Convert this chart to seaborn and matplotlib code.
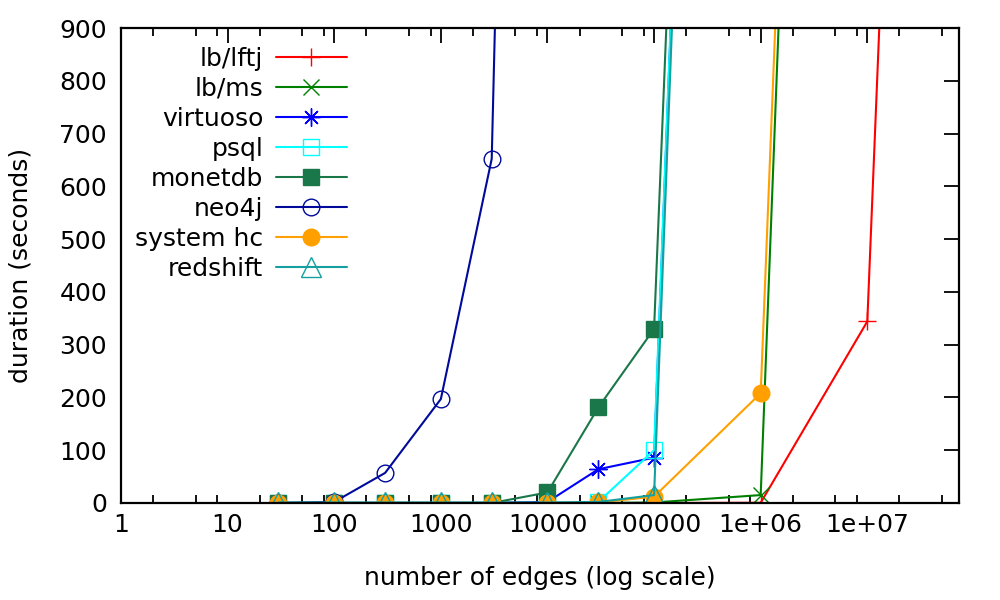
import numpy as np
import pandas as pd
import matplotlib
matplotlib.use("Agg")
import matplotlib.pyplot as plt
import seaborn as sns
from matplotlib.ticker import FixedLocator, FixedFormatter, NullFormatter

# ---- data ----
x_small = [30, 100, 300, 1000, 3000, 10000, 30000, 100000]

lftj_x = x_small + [1e6, 1e7, 1e8]
lftj_y = [0, 0, 0, 0, 0, 0, 0, 0, 0.5, 344, 5300]

ms_x = x_small + [1e6, 1e7]
ms_y = [0, 0, 0, 0, 0, 0, 0, 1, 15, 5300]

virt_x = x_small + [1e6]
virt_y = [0, 0, 0, 0, 0, 2, 64, 86, 5300]

psql_x = x_small + [1e6]
psql_y = [0, 0, 0, 0, 0, 0, 2, 100, 5300]

monet_x = x_small + [1e6]
monet_y = [0, 0, 0, 0, 0, 20, 181, 330, 5300]

neo_x = [30, 100, 300, 1000, 3000, 10000]
neo_y = [0, 2, 57, 197, 652, 5000]

hc_x = x_small + [1e6, 1e7]
hc_y = [0, 0, 0, 0, 0, 0, 1, 12, 208, 5300]

red_x = x_small + [1e6]
red_y = [1, 1, 1, 1, 1, 1, 2, 15, 5300]

series_names = ["lb/lftj", "lb/ms", "virtuoso", "psql", "monetdb", "neo4j",
                "system hc", "redshift"]
series_x = [lftj_x, ms_x, virt_x, psql_x, monet_x, neo_x, hc_x, red_x]
series_y = [lftj_y, ms_y, virt_y, psql_y, monet_y, neo_y, hc_y, red_y]

colors = ["#ff0000", "#008000", "#0000ff", "#00ffff", "#1a774a", "#000a9a",
          "#ffa000", "#15a0a0"]
markers = ["+", "x", (8, 2, 0), "s", "s", "o", "o", "^"]
filled = [True, True, True, False, True, False, True, False]
msizes = [13, 11, 13, 11.5, 11.5, 12, 12, 14]

x_ticks = [1, 10, 100, 1000, 10000, 100000, 1e6, 1e7]
x_tick_labels = ["1", "10", "100", "1000", "10000", "100000", "1e+06", "1e+07"]
y_ticks = [0, 100, 200, 300, 400, 500, 600, 700, 800, 900]

# ---- styling ----
sns.set_style("white")
plt.rcParams["font.family"] = ["DejaVu Sans"]
for k in ["text.color", "axes.labelcolor", "xtick.color", "ytick.color",
          "xtick.labelcolor", "ytick.labelcolor"]:
    plt.rcParams[k] = "black"
FS = 18

fig = plt.figure(figsize=(10, 6), dpi=100)
ax = fig.add_axes([0.121, 97 / 600, 0.838, 475 / 600])

for name, xs, ys, c, m, f, ms in zip(series_names, series_x, series_y, colors,
                                     markers, filled, msizes):
    df = pd.DataFrame({"x": xs, "y": ys})
    sns.lineplot(data=df, x="x", y="y", ax=ax, color=c, marker=m,
                 markersize=ms, markeredgecolor=c,
                 markerfacecolor=(c if f else "none"),
                 markeredgewidth=1.0, linewidth=1.5, label=name,
                 legend=False, clip_on=True)

ax.set_xscale("log")
ax.set_xlim(1, 10 ** 7.86)
ax.set_ylim(0, 900)

ax.xaxis.set_major_locator(FixedLocator(x_ticks))
ax.xaxis.set_major_formatter(FixedFormatter(x_tick_labels))
minor = [d * m for d in [1, 10, 100, 1000, 1e4, 1e5, 1e6, 1e7] for m in (2, 5, 8)]
ax.xaxis.set_minor_locator(FixedLocator(minor))
ax.xaxis.set_minor_formatter(NullFormatter())
ax.set_yticks(y_ticks)

ax.tick_params(axis="both", which="major", direction="in", length=11,
               width=1.3, top=True, right=True, labelsize=FS, color="black",
               labelcolor="black")
ax.tick_params(axis="x", which="minor", direction="in", length=6,
               width=1.3, top=True, bottom=True, color="black")
ax.tick_params(axis="x", which="major", pad=7)
ax.tick_params(axis="y", which="major", pad=10)
for s in ax.spines.values():
    s.set_color("black")
    s.set_linewidth(1.6)
    s.set_visible(True)

ax.set_xlabel("number of edges (log scale)", fontsize=FS, color="black")
ax.set_ylabel("duration (seconds)", fontsize=FS, color="black")
ax.xaxis.set_label_coords(0.5, -0.133)
ax.yaxis.set_label_coords(-0.106, 0.5)

leg = ax.legend(loc="upper right", bbox_to_anchor=(347 / 1000, 1 - 47 / 600),
                bbox_transform=fig.transFigure, frameon=False,
                markerfirst=False, fontsize=FS, handlelength=2.85,
                handletextpad=0.5, labelspacing=0.24, borderpad=0,
                borderaxespad=0, numpoints=1)
for col in leg._legend_handle_box.get_children():
    col.align = "right"
for t in leg.get_texts():
    t.set_color("black")

fig.savefig("out.png", dpi=100)
